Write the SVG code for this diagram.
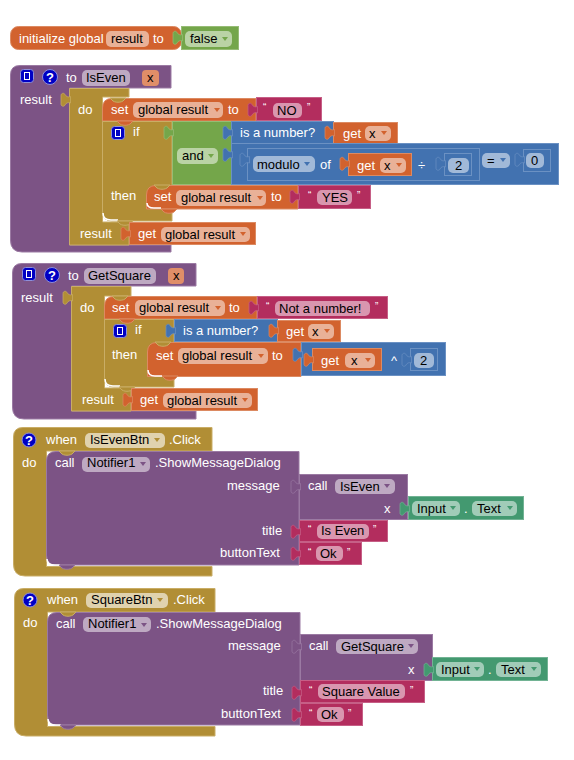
<svg xmlns="http://www.w3.org/2000/svg" width="574" height="760" viewBox="0 0 574 760">
<style>
text{font-family:"Liberation Sans",Arial,sans-serif;font-size:13px;fill:#fff}
text.d{fill:#000}
text.q{font-size:10px}
text.h{font-weight:bold}
.o{fill:#d2622e;stroke:#dc8a62}
.u{fill:#7c5385;stroke:#9b7aa3}
.g{fill:#b18e35;stroke:#c9ad66}
.n{fill:#74a64a;stroke:#96bc75}
.b{fill:#4272b0;stroke:#6b91c3}
.k{fill:#b32d5e;stroke:#c65f86}
.t{fill:#439970;stroke:#72b394}
.p{fill:#fff;fill-opacity:.5;stroke:none}
.pg{fill:#fff;fill-opacity:.6;stroke:none}
.ao{fill:#d2622e}.au{fill:#7c5385}.ag{fill:#b18e35}.an{fill:#74a64a}.ab{fill:#4272b0}.at{fill:#439970}
.m{fill:#0000c4;stroke:#8f8fd8}
.w{fill:none;stroke:#fff;stroke-width:1.5}
#tab{stroke-width:.7}
</style>
<defs>
<path id="tab" d="M1.500 9.500C-1 10.500-3 9.500-4 7.500C-5 5.500-8 6-8 8.500V17C-8 19.500-5 20-4 18C-3 16-1 15 1.500 16Z"/>
<path id="bump" d="M0 0L2 2C4 5 12 5 14 2L16 0Z"/>
<path id="arr" d="M0 0H6L3 4Z"/>
<g id="mut"><rect class="m" x="0.500" y="0.500" width="13" height="13" rx="3"/><rect x="4.500" y="3.500" width="5" height="7" fill="#0000c4" stroke="#fff"/></g>
</defs>
<g id="connectors"></g>

<g id="init-global">
<rect class="o" x="10.500" y="26.500" width="171" height="23" rx="8"/>
<text x="19" y="43">initialize global</text>
<rect class="p" x="106" y="31" width="43" height="16" rx="5"/><text class="d" x="111" y="43">result</text>
<text x="153" y="43">to</text>
<rect class="n" x="181.500" y="26.500" width="57" height="23"/><use href="#tab" class="n" x="181" y="25"/>
<rect class="p" x="185" y="31" width="47" height="16" rx="5"/><text class="d" x="190" y="43">false</text>
<use href="#arr" class="an" x="222" y="37"/>
</g>

<g id="proc-iseven">
<path class="u" d="M10.500 75Q10.500 65.500 20 65.500H171V88H69.500V245H171V252H22Q10.500 252 10.500 240Z"/>
<use href="#mut" x="20" y="69"/>
<circle cx="50" cy="77" r="7.500" class="m"/><text class="h" x="46" y="82">?</text>
<text x="66" y="82">to</text>
<rect class="p" x="82" y="70" width="48" height="16" rx="5"/><text class="d" x="86" y="82">IsEven</text>
<rect x="142" y="70" width="17" height="16" rx="4" fill="#e08e68"/><text class="d" x="147" y="82">x</text>
<text x="20" y="104">result</text>
<path class="g" d="M69.500 88.500H129V97H102.500V222H129V245H69.500Z"/><use href="#tab" class="g" x="69" y="87"/>
<text x="78" y="114">do</text>
<text x="80" y="238">result</text>
</g>
<g id="iseven-set-no">
<path class="o" d="M102.500 108Q102.500 98.500 112 98.500H256V121H102.500Z"/><use href="#bump" class="g" x="110" y="98"/>
<text x="111" y="114">set</text>
<rect class="p" x="133" y="102" width="90" height="16" rx="5"/><text class="d" x="138" y="114">global result</text><use href="#arr" class="ao" x="214" y="108"/>
<text x="228" y="114">to</text>
<rect class="k" x="256.500" y="97.500" width="65" height="23"/><use href="#tab" class="k" x="256" y="97"/>
<text class="q" x="263" y="111">“</text><rect class="p" x="273" y="103" width="29" height="15" rx="5"/><text class="d" x="277" y="115">NO</text><text class="q" x="307" y="111">”</text>
</g>
<g id="iseven-if">
<path class="g" d="M102.500 121.500H172V221H112Q102.500 221 102.500 211Z"/><path class="w" d="M103 213Q103 220 111 220H118"/><use href="#bump" class="g" x="117" y="221"/>
<use href="#bump" class="o" x="117" y="121"/>
<use href="#mut" x="111" y="126"/>
<text x="133" y="136">if</text><text x="111" y="200">then</text>
</g>
<g id="iseven-and">
<rect class="n" x="172.500" y="121.500" width="59" height="63"/><use href="#tab" class="n" x="172" y="120"/>
<rect class="p" x="177" y="148" width="41" height="16" rx="5"/><text class="d" x="182" y="160">and</text><use href="#arr" class="an" x="208" y="154"/>
</g>
<g id="iseven-isnumber">
<rect class="b" x="231.500" y="121.500" width="102" height="22"/><use href="#tab" class="b" x="231" y="120"/>
<text x="240" y="137">is a number?</text>
<rect class="o" x="333.500" y="122.500" width="64" height="21"/><use href="#tab" class="o" x="333" y="120"/>
<text x="343" y="138">get</text><rect class="p" x="365" y="126" width="26" height="15" rx="5"/><text class="d" x="369" y="138">x</text><use href="#arr" class="ao" x="381" y="131"/>
</g>
<g id="iseven-compare">
<rect class="b" x="231.500" y="143.500" width="327" height="41"/><use href="#tab" class="b" x="231" y="142"/>
<rect class="b" x="247.500" y="148.500" width="232" height="32"/><use href="#tab" class="b" x="248" y="147"/>
<rect class="p" x="253" y="156" width="62" height="16" rx="5"/><text class="d" x="257" y="169">modulo</text><use href="#arr" class="ab" x="304" y="162"/>
<text x="320" y="169">of</text>
<rect class="o" x="348.500" y="153.500" width="63" height="22"/><use href="#tab" class="o" x="348" y="151"/>
<text x="357" y="170">get</text><rect class="p" x="380" y="158" width="26" height="15" rx="5"/><text class="d" x="384" y="170">x</text><use href="#arr" class="ao" x="396" y="163"/>
<text x="418" y="170">÷</text>
<rect class="b" x="444.500" y="153.500" width="27" height="22"/><use href="#tab" class="b" x="444" y="151"/>
<rect class="p" x="448" y="158" width="21" height="15" rx="5"/><text class="d" x="455" y="170">2</text>
<rect class="p" x="482" y="153" width="28" height="15" rx="5"/><text class="d" x="487" y="165">=</text><use href="#arr" class="ab" x="500" y="158"/>
<rect class="b" x="523.500" y="149.500" width="27" height="22"/><use href="#tab" class="b" x="523" y="147"/>
<rect class="p" x="526" y="153" width="18" height="15" rx="5"/><text class="d" x="531" y="165">0</text>
</g>
<g id="iseven-set-yes">
<path class="o" d="M146.500 195Q146.500 185.500 156 185.500H298V209H146.500Z"/><use href="#bump" class="g" x="154" y="185"/><path class="w" d="M147 203Q147 208 154 208H161"/><use href="#bump" class="o" x="161" y="209"/>
<text x="154" y="201">set</text>
<rect class="p" x="176" y="190" width="90" height="16" rx="5"/><text class="d" x="181" y="202">global result</text><use href="#arr" class="ao" x="257" y="196"/>
<text x="271" y="201">to</text>
<rect class="k" x="298.500" y="185.500" width="72" height="23"/><use href="#tab" class="k" x="298" y="184"/>
<text class="q" x="308" y="199">“</text><rect class="p" x="317" y="190" width="35" height="15" rx="5"/><text class="d" x="322" y="202">YES</text><text class="q" x="357" y="199">”</text>
</g>
<g id="iseven-get">
<rect class="o" x="129.500" y="222.500" width="126" height="22"/><use href="#tab" class="o" x="129" y="221"/>
<text x="138" y="238">get</text><rect class="p" x="161" y="227" width="89" height="15" rx="5"/><text class="d" x="165" y="239">global result</text><use href="#arr" class="ao" x="240" y="232"/>
</g>

<g id="proc-getsquare">
<path class="u" d="M12.500 273Q12.500 263.500 22 263.500H196V286H71.500V411H196V419H24Q12.500 419 12.500 407Z"/>
<use href="#mut" x="22" y="267"/>
<circle cx="52" cy="275" r="7.500" class="m"/><text class="h" x="48" y="280">?</text>
<text x="68" y="280">to</text>
<rect class="p" x="84" y="268" width="72" height="16" rx="5"/><text class="d" x="88" y="280">GetSquare</text>
<rect x="168" y="268" width="16" height="16" rx="4" fill="#e08e68"/><text class="d" x="173" y="280">x</text>
<text x="21" y="302">result</text>
<path class="g" d="M71.500 286.500H131V296H104.500V388H131V411H71.500Z"/><use href="#tab" class="g" x="71" y="285"/>
<text x="80" y="312">do</text>
<text x="82" y="404">result</text>
</g>
<g id="getsquare-set-msg">
<path class="o" d="M104.500 306Q104.500 296.500 114 296.500H257V319H104.500Z"/><use href="#bump" class="g" x="112" y="296"/>
<text x="112" y="312">set</text>
<rect class="p" x="135" y="300" width="90" height="16" rx="5"/><text class="d" x="139" y="312">global result</text><use href="#arr" class="ao" x="215" y="306"/>
<text x="229" y="312">to</text>
<rect class="k" x="257.500" y="296.500" width="130" height="22"/><use href="#tab" class="k" x="257" y="295"/>
<text class="q" x="266" y="310">“</text><rect class="p" x="275" y="301" width="95" height="15" rx="5"/><text class="d" x="279" y="313">Not a number!</text><text class="q" x="375" y="310">”</text>
</g>
<g id="getsquare-if">
<path class="g" d="M104.500 319.500H174V387H114Q104.500 387 104.500 377Z"/><path class="w" d="M105 379Q105 386 113 386H120"/><use href="#bump" class="g" x="119" y="387"/>
<use href="#bump" class="o" x="119" y="319"/>
<use href="#mut" x="113" y="324"/>
<text x="135" y="334">if</text><text x="112" y="359">then</text>
</g>
<g id="getsquare-isnumber">
<rect class="b" x="174.500" y="319.500" width="103" height="22"/><use href="#tab" class="b" x="174" y="318"/>
<text x="183" y="335">is a number?</text>
<rect class="o" x="277.500" y="320.500" width="63" height="21"/><use href="#tab" class="o" x="277" y="318"/>
<text x="286" y="336">get</text><rect class="p" x="308" y="324" width="26" height="15" rx="5"/><text class="d" x="312" y="336">x</text><use href="#arr" class="ao" x="324" y="329"/>
</g>
<g id="getsquare-set-result">
<path class="o" d="M147.500 352Q147.500 342.500 157 342.500H301V376.500H147.500Z"/><use href="#bump" class="g" x="155" y="342"/><path class="w" d="M148 370Q148 376 155 376H162"/><use href="#bump" class="o" x="162" y="376"/>
<text x="156" y="360">set</text>
<rect class="p" x="178" y="348" width="90" height="16" rx="5"/><text class="d" x="182" y="360">global result</text><use href="#arr" class="ao" x="258" y="354"/>
<text x="272" y="360">to</text>
<rect class="b" x="301.500" y="342.500" width="144" height="33"/><use href="#tab" class="b" x="301" y="342"/>
<rect class="o" x="312.500" y="348.500" width="69" height="22"/><use href="#tab" class="o" x="312" y="347"/>
<text x="321" y="365">get</text><rect class="p" x="345" y="353" width="30" height="15" rx="5"/><text class="d" x="351" y="365">x</text><use href="#arr" class="ao" x="365" y="358"/>
<text x="391" y="365">^</text>
<rect class="b" x="410.500" y="348.500" width="27" height="22"/><use href="#tab" class="b" x="410" y="347"/>
<rect class="p" x="414" y="353" width="20" height="15" rx="5"/><text class="d" x="420" y="365">2</text>
</g>
<g id="getsquare-get">
<rect class="o" x="131.500" y="388.500" width="126" height="22"/><use href="#tab" class="o" x="131" y="387"/>
<text x="140" y="404">get</text><rect class="p" x="163" y="393" width="89" height="15" rx="5"/><text class="d" x="167" y="405">global result</text><use href="#arr" class="ao" x="242" y="398"/>
</g>

<g id="when-iseven">
<path class="g" d="M13.500 437Q13.500 427.500 23 427.500H212V451H46.500V566.500H212V576H25Q13.500 576 13.500 564Z"/>
<circle cx="29" cy="440" r="7" class="m"/><text class="h" x="25" y="445">?</text>
<text x="46" y="444">when</text>
<rect class="pg" x="85" y="433" width="80" height="15" rx="5"/><text class="d" x="90" y="444">IsEvenBtn</text><use href="#arr" class="ag" x="154" y="438"/>
<text x="169" y="444">.Click</text>
<text x="22" y="467">do</text>
</g>
<g id="call-notifier1">
<path class="u" d="M46.500 461Q46.500 451.500 56 451.500H299V565H56Q46.500 565 46.500 555Z"/><use href="#bump" class="g" x="59" y="451"/><path class="w" d="M47 559Q47 565 55 565H60"/><use href="#bump" class="u" x="59" y="565"/>
<text x="55" y="467">call</text>
<rect class="p" x="82" y="457" width="68" height="15" rx="5"/><text class="d" x="87" y="467">Notifier1</text><use href="#arr" class="au" x="140" y="462"/>
<text x="155" y="467">.ShowMessageDialog</text>
<text x="227" y="490">message</text>
<text x="262" y="535">title</text>
<text x="220" y="557">buttonText</text>
</g>
<g id="call-iseven">
<rect class="u" x="299.500" y="474.500" width="108" height="45"/><use href="#tab" class="u" x="299" y="474"/>
<text x="308" y="490">call</text>
<rect class="p" x="335" y="479" width="60" height="15" rx="5"/><text class="d" x="340" y="491">IsEven</text><use href="#arr" class="au" x="384" y="484"/>
<text x="384" y="513">x</text>
</g>
<g id="input-text-1">
<rect class="t" x="408.500" y="496.500" width="115" height="23"/><use href="#tab" class="t" x="408" y="496"/>
<rect class="p" x="412" y="501" width="48" height="15" rx="5"/><text class="d" x="417" y="513">Input</text><use href="#arr" class="at" x="450" y="506"/>
<text x="464" y="513">.</text>
<rect class="p" x="472" y="501" width="45" height="15" rx="5"/><text class="d" x="477" y="513">Text</text><use href="#arr" class="at" x="507" y="506"/>
</g>
<g id="text-iseven">
<rect class="k" x="299.500" y="520.500" width="88" height="21"/><use href="#tab" class="k" x="299" y="519"/>
<text class="q" x="308" y="533">“</text><rect class="p" x="317" y="524" width="52" height="15" rx="5"/><text class="d" x="321" y="535">Is Even</text><text class="q" x="373" y="533">”</text>
</g>
<g id="text-ok-1">
<rect class="k" x="299.500" y="542.500" width="62" height="22"/><use href="#tab" class="k" x="299" y="541"/>
<text class="q" x="308" y="556">“</text><rect class="p" x="316" y="546" width="27" height="15" rx="5"/><text class="d" x="320" y="558">Ok</text><text class="q" x="347" y="556">”</text>
</g>

<g id="when-square">
<path class="g" d="M14.500 598Q14.500 588.500 24 588.500H215V612H47.500V726.500H215V736H26Q14.500 736 14.500 724Z"/>
<circle cx="30" cy="600" r="7" class="m"/><text class="h" x="26" y="605">?</text>
<text x="47" y="604">when</text>
<rect class="pg" x="86" y="593" width="82" height="15" rx="5"/><text class="d" x="91" y="604">SquareBtn</text><use href="#arr" class="ag" x="157" y="598"/>
<text x="173" y="604">.Click</text>
<text x="23" y="627">do</text>
</g>
<g id="call-notifier2">
<path class="u" d="M47.500 622Q47.500 612.500 57 612.500H300V725H57Q47.500 725 47.500 715Z"/><use href="#bump" class="g" x="60" y="612"/><path class="w" d="M48 719Q48 725 56 725H61"/><use href="#bump" class="u" x="60" y="725"/>
<text x="56" y="628">call</text>
<rect class="p" x="83" y="617" width="68" height="15" rx="5"/><text class="d" x="88" y="628">Notifier1</text><use href="#arr" class="au" x="141" y="623"/>
<text x="156" y="628">.ShowMessageDialog</text>
<text x="228" y="650">message</text>
<text x="263" y="695">title</text>
<text x="221" y="718">buttonText</text>
</g>
<g id="call-getsquare">
<rect class="u" x="300.500" y="634.500" width="132" height="46"/><use href="#tab" class="u" x="300" y="634"/>
<text x="309" y="650">call</text>
<rect class="p" x="336" y="639" width="82" height="15" rx="5"/><text class="d" x="341" y="651">GetSquare</text><use href="#arr" class="au" x="408" y="644"/>
<text x="408" y="674">x</text>
</g>
<g id="input-text-2">
<rect class="t" x="432.500" y="657.500" width="115" height="23"/><use href="#tab" class="t" x="432" y="657"/>
<rect class="p" x="436" y="662" width="48" height="15" rx="5"/><text class="d" x="441" y="674">Input</text><use href="#arr" class="at" x="474" y="667"/>
<text x="488" y="674">.</text>
<rect class="p" x="496" y="662" width="45" height="15" rx="5"/><text class="d" x="501" y="674">Text</text><use href="#arr" class="at" x="531" y="667"/>
</g>
<g id="text-square">
<rect class="k" x="300.500" y="680.500" width="124" height="22"/><use href="#tab" class="k" x="300" y="680"/>
<text class="q" x="309" y="694">“</text><rect class="p" x="318" y="684" width="87" height="15" rx="5"/><text class="d" x="322" y="696">Square Value</text><text class="q" x="410" y="694">”</text>
</g>
<g id="text-ok-2">
<rect class="k" x="300.500" y="703.500" width="62" height="22"/><use href="#tab" class="k" x="300" y="702"/>
<text class="q" x="309" y="717">“</text><rect class="p" x="317" y="707" width="27" height="15" rx="5"/><text class="d" x="321" y="719">Ok</text><text class="q" x="348" y="717">”</text>
</g>
</svg>
